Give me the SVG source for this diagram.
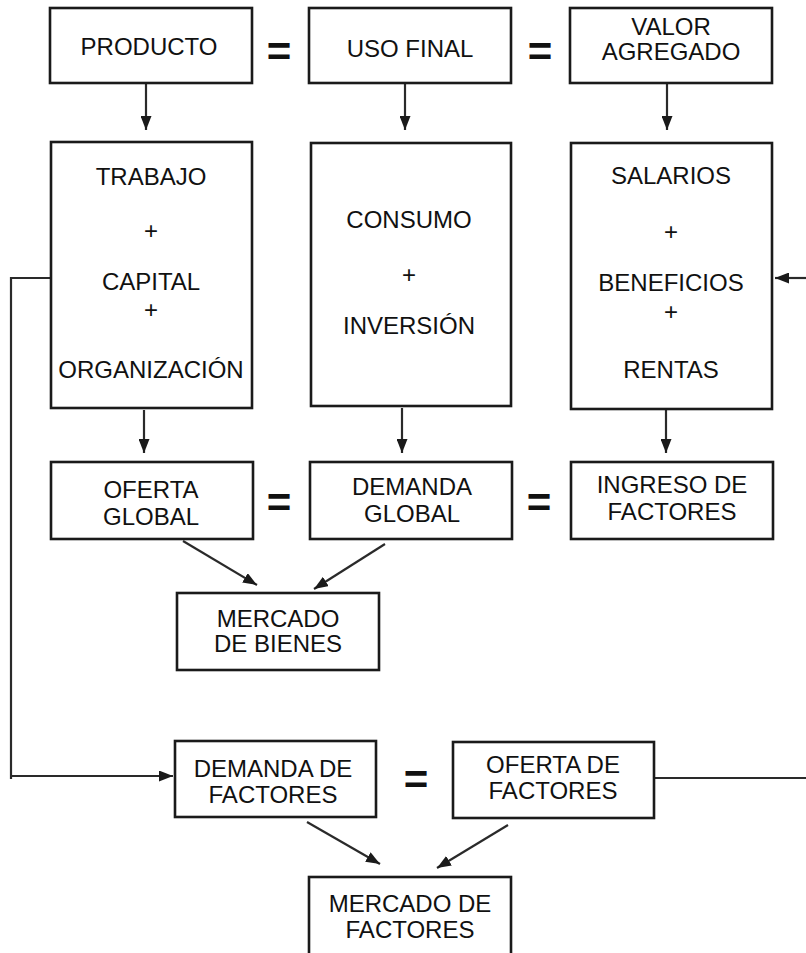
<svg xmlns="http://www.w3.org/2000/svg" width="806" height="953" viewBox="0 0 806 953">
<style>
.box{fill:#fff;stroke:#1a1a1a;stroke-width:2.6}
.t{font-family:"Liberation Sans",Arial,sans-serif;font-size:24px;fill:#111;text-anchor:middle}
.eq{font-family:"Liberation Sans",Arial,sans-serif;font-size:42px;font-weight:bold;fill:#111;text-anchor:middle}
.c{fill:none;stroke:#2a2a2a;stroke-width:2.2}
</style>
<defs>
<marker id="ah" viewBox="0 0 14 11" refX="14" refY="5.5" markerWidth="14" markerHeight="11" markerUnits="userSpaceOnUse" orient="auto">
<path d="M0,0 L14,5.5 L0,11 Z" fill="#1a1a1a"/>
</marker>
</defs>
<g id="connectors">
<line class="c" x1="146" y1="84" x2="146" y2="130" marker-end="url(#ah)"/>
<line class="c" x1="405" y1="84" x2="405" y2="130" marker-end="url(#ah)"/>
<line class="c" x1="667" y1="84" x2="667" y2="130" marker-end="url(#ah)"/>
<line class="c" x1="144" y1="410" x2="144" y2="453" marker-end="url(#ah)"/>
<line class="c" x1="402" y1="408" x2="402" y2="453" marker-end="url(#ah)"/>
<line class="c" x1="666" y1="410" x2="666" y2="453" marker-end="url(#ah)"/>
<line class="c" x1="183" y1="541" x2="257" y2="585" marker-end="url(#ah)"/>
<line class="c" x1="385" y1="544" x2="314" y2="589" marker-end="url(#ah)"/>
<polyline class="c" points="51,278 11,278 11,779"/>
<line class="c" x1="11" y1="776" x2="173" y2="776" marker-end="url(#ah)"/>
<line class="c" x1="806" y1="278" x2="775" y2="278" marker-end="url(#ah)"/>
<line class="c" x1="654" y1="778" x2="806" y2="778"/>
<line class="c" x1="307" y1="822" x2="380" y2="864" marker-end="url(#ah)"/>
<line class="c" x1="508" y1="825" x2="437" y2="868" marker-end="url(#ah)"/>
</g>
<g id="eq1"><text class="eq" x="279" y="66">=</text></g>
<g id="eq2"><text class="eq" x="540" y="66">=</text></g>
<g id="eq3"><text class="eq" x="279" y="517">=</text></g>
<g id="eq4"><text class="eq" x="539" y="517">=</text></g>
<g id="eq5"><text class="eq" x="416" y="794">=</text></g>
<g id="producto"><rect class="box" x="50" y="8" width="202" height="75"/><text class="t" x="149" y="55">PRODUCTO</text></g>
<g id="uso-final"><rect class="box" x="309" y="8" width="202" height="75"/><text class="t" x="410" y="57">USO FINAL</text></g>
<g id="valor-agregado"><rect class="box" x="570" y="8" width="202" height="75"/><text class="t" x="671" y="35">VALOR</text><text class="t" x="671" y="60">AGREGADO</text></g>
<g id="factores-produccion"><rect class="box" x="51" y="142" width="201" height="266"/>
<text class="t" x="151" y="185">TRABAJO</text><text class="t" x="151" y="239">+</text><text class="t" x="151" y="290">CAPITAL</text><text class="t" x="151" y="318">+</text><text class="t" x="151" y="378">ORGANIZACIÓN</text></g>
<g id="consumo-inversion"><rect class="box" x="311" y="143" width="200" height="263"/>
<text class="t" x="409" y="228">CONSUMO</text><text class="t" x="409" y="283">+</text><text class="t" x="409" y="334">INVERSIÓN</text></g>
<g id="salarios"><rect class="box" x="571" y="143" width="201" height="266"/>
<text class="t" x="671" y="184">SALARIOS</text><text class="t" x="671" y="240">+</text><text class="t" x="671" y="291">BENEFICIOS</text><text class="t" x="671" y="320">+</text><text class="t" x="671" y="378">RENTAS</text></g>
<g id="oferta-global"><rect class="box" x="51" y="462" width="202" height="77"/><text class="t" x="151" y="498">OFERTA</text><text class="t" x="151" y="525">GLOBAL</text></g>
<g id="demanda-global"><rect class="box" x="310" y="462" width="202" height="77"/><text class="t" x="412" y="495">DEMANDA</text><text class="t" x="412" y="522">GLOBAL</text></g>
<g id="ingreso-factores"><rect class="box" x="571" y="462" width="202" height="77"/><text class="t" x="672" y="493">INGRESO DE</text><text class="t" x="672" y="520">FACTORES</text></g>
<g id="mercado-bienes"><rect class="box" x="177" y="593" width="202" height="77"/><text class="t" x="278" y="627">MERCADO</text><text class="t" x="278" y="652">DE BIENES</text></g>
<g id="demanda-factores"><rect class="box" x="175" y="741" width="201" height="76"/><text class="t" x="273" y="777">DEMANDA DE</text><text class="t" x="273" y="803">FACTORES</text></g>
<g id="oferta-factores"><rect class="box" x="453" y="742" width="201" height="76"/><text class="t" x="553" y="773">OFERTA DE</text><text class="t" x="553" y="799">FACTORES</text></g>
<g id="mercado-factores"><rect class="box" x="309" y="877" width="202" height="84"/><text class="t" x="410" y="912">MERCADO DE</text><text class="t" x="410" y="938">FACTORES</text></g>
</svg>
